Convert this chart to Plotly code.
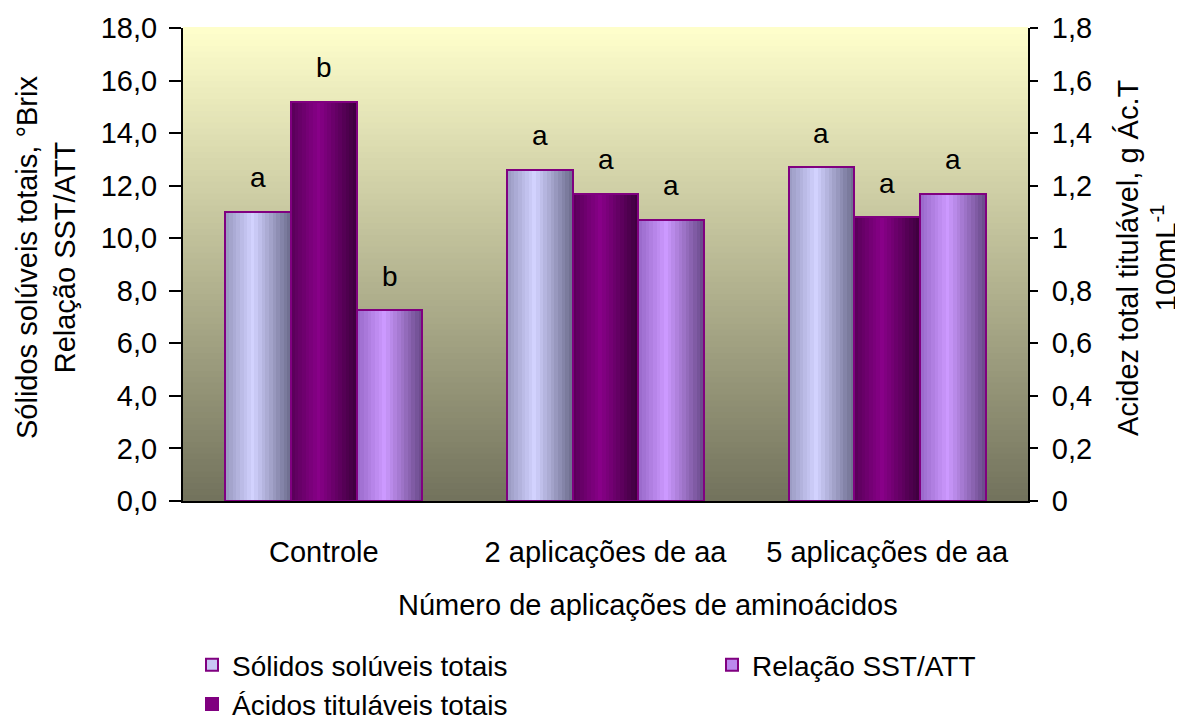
import numpy as np
import plotly.graph_objects as go

categories = ["Controle", "2 aplicações de aa", "5 aplicações de aa"]
solidos = [11.0, 12.6, 12.7]          # °Brix (left axis)
acidos = [1.52, 1.17, 1.08]           # g Ác.T 100mL-1 (right axis)
relacao = [7.25, 10.7, 11.7]          # SST/ATT (left axis)
letters_solidos = ["a", "a", "a"]
letters_acidos = ["b", "a", "a"]
letters_relacao = ["b", "a", "a"]
left_tickvals = [0, 2, 4, 6, 8, 10, 12, 14, 16, 18]
left_ticktext = ["0,0", "2,0", "4,0", "6,0", "8,0", "10,0", "12,0", "14,0", "16,0", "18,0"]
right_tickvals = [0, 0.2, 0.4, 0.6, 0.8, 1.0, 1.2, 1.4, 1.6, 1.8]
right_ticktext = ["0", "0,2", "0,4", "0,6", "0,8", "1", "1,2", "1,4", "1,6", "1,8"]
x_title = "Número de aplicações de aminoácidos"
y_title = "Sólidos solúveis totais, °Brix<br>Relação SST/ATT"
y2_title = "Acidez total titulável, g Ác.T<br>100mL<sup>-1</sup>"

FONT = "Liberation Sans, Arial, sans-serif"
FS = 29
W = 0.7 / 3
NSTRIP = 18
xi = np.arange(len(categories))
# page body has an 8px margin; figure is sized so it ends at the window edge
OFF = 8
FW, FH = 1183 - OFF, 720 - OFF
ML, MR, MT, MB = 183 - OFF, 155, 28 - OFF, 219
PW, PH = FW - ML - MR, FH - MT - MB

def px_x(wx):  # window x -> paper x
    return (wx - OFF - ML) / PW

def px_y(wy):  # window y -> paper y
    return (FH - MB - (wy - OFF)) / PH

def hex2rgb(h):
    h = h.lstrip("#")
    return np.array([int(h[i:i + 2], 16) for i in (0, 2, 4)], dtype=float)

def shade(left, peak, right, t):
    l, p, r = hex2rgb(left), hex2rgb(peak), hex2rgb(right)
    tp = 0.42
    if t <= tp:
        c = l + (p - l) * (t / tp)
    else:
        c = p + (r - p) * ((t - tp) / (1 - tp))
    return "rgb(%d,%d,%d)" % tuple(np.round(c))

series = [
    dict(name="Sólidos solúveis totais", vals=solidos, letters=letters_solidos, axis="y",
         pal=("#9898C0", "#D2D2FF", "#6C6C8C"), legend_color="#C8C8F4", j=0, lg="legend", rank=1),
    dict(name="Ácidos tituláveis totais", vals=acidos, letters=letters_acidos, axis="y2",
         pal=("#580058", "#880088", "#3C003C"), legend_color="#800080", j=1, lg="legend", rank=2),
    dict(name="Relação SST/ATT", vals=relacao, letters=letters_relacao, axis="y",
         pal=("#9868C8", "#CC99FF", "#684888"), legend_color="#BB88EE", j=2, lg="legend2", rank=1),
]

fig = go.Figure()

# gradient plot background
NB = 80
for k in range(NB):
    t = (k + 0.5) / NB
    top = hex2rgb("#FFFFCC")
    bot = hex2rgb("#72725C")
    c = bot + (top - bot) * t
    fig.add_shape(type="rect", xref="paper", yref="paper", x0=0, x1=1,
                  y0=k / NB, y1=(k + 1) / NB + 0.002, line_width=0,
                  fillcolor="rgb(%d,%d,%d)" % tuple(np.round(c)), layer="below")

annotations = []
for s in series:
    centers = xi + (s["j"] - 1) * W
    for k in range(NSTRIP):
        t = (k + 0.5) / NSTRIP
        fig.add_trace(go.Bar(
            x=centers - W / 2 + (k + 0.5) * W / NSTRIP, y=s["vals"], width=W / NSTRIP,
            marker=dict(color=shade(*s["pal"], t), line=dict(width=0)),
            yaxis=s["axis"], showlegend=False, hoverinfo="skip"))
    fig.add_trace(go.Bar(
        x=centers, y=s["vals"], width=W,
        marker=dict(color="rgba(0,0,0,0)", line=dict(color="#800080", width=2)),
        yaxis=s["axis"], showlegend=False, name=s["name"]))
    fig.add_trace(go.Bar(
        x=[None], y=[None], name=s["name"], legend=s["lg"], legendrank=s["rank"],
        marker=dict(color=s["legend_color"], line=dict(color="#800080", width=1.5)),
        yaxis=s["axis"], showlegend=True))
    for c, v, lt in zip(centers, s["vals"], s["letters"]):
        annotations.append(dict(x=c, y=v, yref=s["axis"], xref="x", text=lt,
                                showarrow=False, yshift=34,
                                font=dict(family=FONT, size=28, color="black")))

# axis titles
annotations.append(dict(xref="paper", yref="paper", x=px_x(46), y=px_y(258),
                        text=y_title, textangle=-90, showarrow=False,
                        xanchor="center", yanchor="middle",
                        font=dict(family=FONT, size=FS, color="black")))
annotations.append(dict(xref="paper", yref="paper", x=px_x(1147), y=px_y(258),
                        text=y2_title, textangle=-90, showarrow=False,
                        xanchor="center", yanchor="middle",
                        font=dict(family=FONT, size=FS, color="black")))
annotations.append(dict(xref="paper", yref="paper", x=px_x(648), y=px_y(605),
                        text=x_title, showarrow=False,
                        xanchor="center", yanchor="middle",
                        font=dict(family=FONT, size=FS, color="black")))

legend_common = dict(orientation="v", xref="container", yref="container",
                     xanchor="left", yanchor="top", font=dict(family=FONT, size=28),
                     itemwidth=30, tracegroupgap=0, bgcolor="rgba(0,0,0,0)",
                     itemsizing="constant")

fig.update_layout(
    width=FW, height=FH,
    margin=dict(l=ML, r=MR, t=MT, b=MB, autoexpand=False),
    paper_bgcolor="white", plot_bgcolor="rgba(0,0,0,0)",
    barmode="overlay", bargap=0,
    font=dict(family=FONT, size=FS, color="black"),
    annotations=annotations,
    showlegend=True,
    legend=dict(x=(192 - OFF) / FW, y=1 - (640 - OFF) / FH, **legend_common),
    legend2=dict(x=(712 - OFF) / FW, y=1 - (640 - OFF) / FH, **legend_common),
    xaxis=dict(range=[-0.5, 2.5], tickvals=list(xi), ticktext=categories,
               showline=True, linecolor="black", linewidth=2, ticks="",
               ticklabelstandoff=24, showgrid=False, zeroline=False,
               tickangle=0, automargin=False, tickfont=dict(size=FS)),
    yaxis=dict(range=[0, 18], tickvals=left_tickvals, ticktext=left_ticktext,
               showline=True, linecolor="black", linewidth=2, ticks="outside",
               ticklen=12, tickwidth=2, tickcolor="black", showgrid=False, zeroline=False,
               tickfont=dict(size=FS), ticklabelstandoff=6, automargin=False),
    yaxis2=dict(range=[0, 1.8], tickvals=right_tickvals, ticktext=right_ticktext,
                overlaying="y", side="right", anchor="x",
                showline=True, linecolor="black", linewidth=2, ticks="outside",
                ticklen=8, tickwidth=2, tickcolor="black", showgrid=False, zeroline=False,
                tickfont=dict(size=FS), ticklabelstandoff=8, automargin=False),
)

fig.write_html("out.html")
